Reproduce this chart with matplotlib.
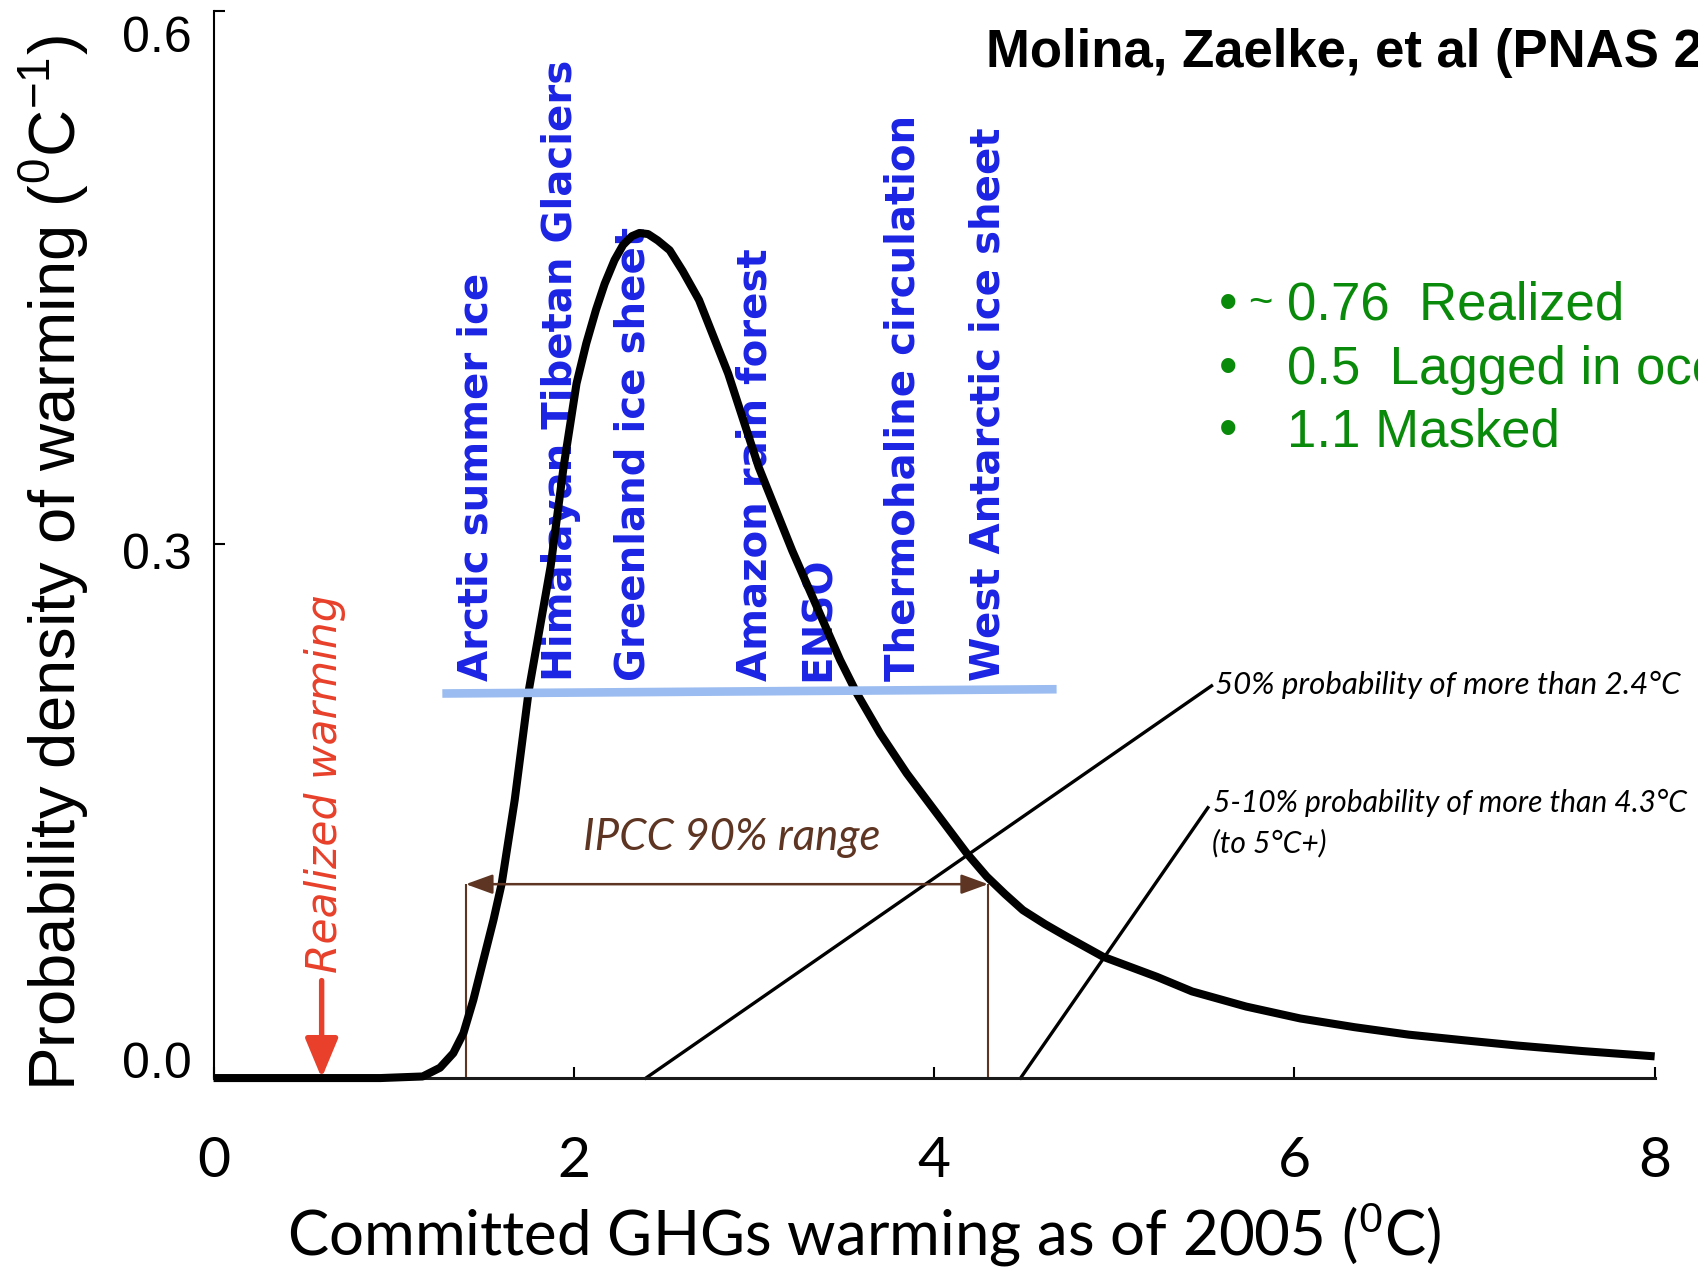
import numpy as np
import matplotlib
matplotlib.use("Agg")
import matplotlib.pyplot as plt
from matplotlib.transforms import ScaledTranslation

plt.rcParams['mathtext.fontset'] = 'custom'
plt.rcParams['mathtext.rm'] = 'Liberation Sans'

# committed warming pdf (degC, per degC)
pdf_x = [0.000, 0.620, 0.926, 1.161, 1.257, 1.331, 1.387, 1.442, 1.498, 1.554,
         1.600, 1.672, 1.750, 1.871, 1.943, 2.015, 2.069, 2.123, 2.171, 2.226,
         2.274, 2.322, 2.364, 2.412, 2.466, 2.532, 2.604, 2.695, 2.857, 3.026,
         3.212, 3.478, 3.571, 3.700, 3.848, 4.014, 4.181, 4.292, 4.394, 4.493,
         4.616, 4.738, 4.938, 5.237, 5.432, 5.732, 6.033, 6.334, 6.635, 6.935,
         7.236, 7.597, 8.000]
pdf_y = [0.000, 0.000, 0.000, 0.0009, 0.0058, 0.0140, 0.0252, 0.0439, 0.0664, 0.0889,
         0.1096, 0.1565, 0.2180, 0.2875, 0.3435, 0.3905, 0.4130, 0.4319, 0.4465, 0.4599,
         0.4685, 0.4733, 0.4751, 0.4745, 0.4709, 0.4654, 0.4538, 0.4374, 0.3960, 0.3435,
         0.2966, 0.2351, 0.2163, 0.1938, 0.1713, 0.1489, 0.1264, 0.1133, 0.1034, 0.0944,
         0.0865, 0.0794, 0.0682, 0.0569, 0.0487, 0.0402, 0.0335, 0.0286, 0.0244, 0.0213,
         0.0183, 0.0152, 0.0122]

# tipping elements and where they sit along the warming axis
tipping_names = ['Arctic summer ice', 'Himalayan Tibetan Glaciers', 'Greenland ice sheet',
                 'Amazon rain forest', 'ENSO', 'Thermohaline circulation',
                 'West Antarctic ice sheet']
tipping_x = [1.46, 1.93, 2.33, 3.01, 3.36, 3.83, 4.30]
tipping_band = ([1.27, 4.68], [0.2162, 0.2186])

realized = 0.6
ipcc_range = (1.4, 4.3)
ipcc_level = 0.109

# leader lines for the probability notes: (start, end)
note_50 = ([2.4, 5.54], [0.0, 0.2205])
note_5_10 = ([4.48, 5.52], [0.0, 0.152])

xticks = [0, 2, 4, 6, 8]
yticks = [0.0, 0.3, 0.6]
ytick_labels = ['0.0', '0.3', '0.6']

budget_vals = ['0.76', '0.5', '1.1']
budget_text = ['Realized', 'Lagged in ocean', 'Masked']

blue = '#1c24e4'
brown = '#5e3522'
red = '#e8402a'
green = '#0a8a0a'

fig = plt.figure(figsize=(16.99, 12.74), dpi=100)
ax = fig.add_axes([0.1257, 0.1538, 0.8482, 0.8377])
ax.set_xlim(0, 8)
ax.set_ylim(0, 0.6)

for s in ['top', 'right']:
    ax.spines[s].set_visible(False)
ax.spines['left'].set_linewidth(1.5)
ax.spines['bottom'].set_linewidth(2.2)
ax.spines['bottom'].set_color('#1a1a1a')

ax.set_xticks(xticks)
ax.set_xticklabels([str(t) for t in xticks], fontfamily='Lato', fontsize=41)
ax.tick_params(axis='x', direction='in', length=8, width=1.5, pad=42)
ax.set_yticks(yticks)
ax.set_yticklabels(ytick_labels, fontfamily='Liberation Sans', fontsize=36)
ax.tick_params(axis='y', direction='in', length=8, width=1.5, pad=16)
# nudge the y labels off their ticks
for lab, dy in zip(ax.get_yticklabels(), [13, -5, -17]):
    lab.set_transform(lab.get_transform() + ScaledTranslation(0, dy / 72, fig.dpi_scale_trans))

# main density curve
ax.plot(pdf_x, pdf_y, color='black', lw=5.8, solid_capstyle='butt',
        solid_joinstyle='round', clip_on=False, zorder=3)

# tipping element labels above the light blue band
ax.plot(*tipping_band, color='#9bbcf0', lw=6.2, zorder=4, solid_capstyle='butt')
for name, x in zip(tipping_names, tipping_x):
    ax.text(x, 0.2235, name, rotation=90, ha='center', va='bottom',
            color=blue, fontsize=29, fontweight='bold', fontfamily='DejaVu Sans', zorder=2)

# realized warming arrow
ax.annotate('', xy=(realized, 0), xytext=(realized, 0.0548),
            arrowprops=dict(arrowstyle='-|>,head_width=0.5,head_length=1.2',
                            color=red, lw=3.9, shrinkA=0, shrinkB=0, mutation_scale=20),
            zorder=5)
ax.text(realized + 0.02, 0.059, 'Realized warming', rotation=90, ha='center', va='bottom',
        color=red, fontsize=30.5, style='italic', fontfamily='DejaVu Sans')

# IPCC likely range
ax.vlines(ipcc_range, 0, ipcc_level, color=brown, lw=1.5, zorder=2)
ax.annotate('', xy=(ipcc_range[0], ipcc_level), xytext=(ipcc_range[1], ipcc_level),
            arrowprops=dict(arrowstyle='<|-|>,head_width=0.4,head_length=1.1',
                            color=brown, lw=1.8, shrinkA=0, shrinkB=0, mutation_scale=15))
ax.text(2.875, 0.135, 'IPCC 90% range', ha='center', va='center', color=brown,
        fontsize=31.5, style='italic', fontfamily='Lato')

# probability notes
ax.plot(*note_50, color='black', lw=2.4, clip_on=False)
ax.plot(*note_5_10, color='black', lw=2.4, clip_on=False)
ax.text(5.56, 0.221, '50% probability of more than 2.4°C', ha='left', va='center',
        fontsize=22.5, style='italic', fontfamily='Lato')
ax.text(5.55, 0.1547, '5-10% probability of more than 4.3°C', ha='left', va='center',
        fontsize=21.6, style='italic', fontfamily='Lato')
ax.text(5.54, 0.132, '(to 5°C+)', ha='left', va='center',
        fontsize=21.6, style='italic', fontfamily='Lato')

# axis titles
fig.text(0.5085, 1 - 1235 / 1274, r'Committed GHGs warming as of 2005 ($^{0}$C)',
         ha='center', va='center', fontsize=44.5, fontfamily='Lato')
fig.text(54 / 1699, 1 - 563 / 1274, r'Probability density of warming ($^{0}$C$^{-1}$)',
         rotation=90, ha='center', va='center', fontsize=47, fontfamily='Liberation Sans')

fig.text(986 / 1699, 0.9474, 'Molina, Zaelke, et al (PNAS 2009)', ha='left', va='baseline',
         fontsize=38, fontweight='bold', fontfamily='Liberation Sans')

# warming budget bullets
for i, (v, t) in enumerate(zip(budget_vals, budget_text)):
    yb = [0.749, 0.6989, 0.6496][i]
    fig.text(0.7175, yb, '•', ha='left', va='baseline', color=green, fontsize=38,
             fontfamily='Liberation Sans')
    if i == 0:
        fig.text(0.7345, yb + 0.004, '~', ha='left', va='baseline', color=green, fontsize=30,
                 fontfamily='Liberation Sans')
    gap = '  ' if i < 2 else ' '
    fig.text(0.7575, yb, v + gap + t, ha='left', va='baseline', color=green, fontsize=38,
             fontfamily='Liberation Sans')

fig.savefig('out.png', dpi=100)
